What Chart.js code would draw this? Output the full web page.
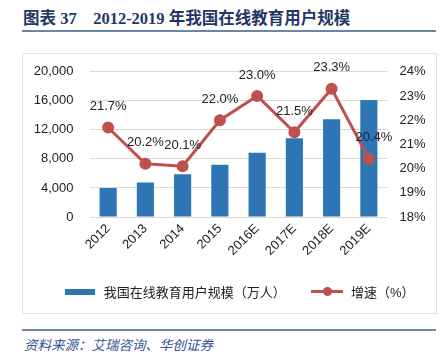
<!DOCTYPE html>
<html><head><meta charset="utf-8">
<script src="https://cdn.jsdelivr.net/npm/chart.js@4"></script>
<style>
html,body{margin:0;padding:0;background:#fff;width:444px;height:356px;overflow:hidden;position:relative;font-family:"Liberation Sans","Noto Sans CJK SC",sans-serif;}
#title{position:absolute;left:23px;top:5px;font-family:"Liberation Serif","Noto Sans CJK SC",serif;font-weight:bold;font-size:16.5px;color:#1f3864;white-space:pre;}
#rule1{position:absolute;left:22px;top:30px;width:414px;height:2px;background:#6b87a3;}
#box{position:absolute;left:22px;top:53px;width:413px;height:259px;border:1px solid #e3e3e3;}
#wrap{position:absolute;left:22px;top:48px;width:414px;height:265px;}
#legend{position:absolute;top:282px;left:65px;font-size:13px;color:#222;white-space:nowrap;}
.it{display:inline-block;vertical-align:middle;}
#rule2{position:absolute;left:22px;top:329px;width:414px;height:2px;background:#6b87a3;}
#src{position:absolute;left:24px;top:334px;font-size:13.5px;font-style:italic;color:#2f5597;font-family:"Noto Sans CJK SC",sans-serif;}
</style></head><body>
<div id="title">图表 37    2012-2019 年我国在线教育用户规模</div>
<div id="rule1"></div>
<div id="box"></div>
<div id="wrap"><canvas id="c" width="414" height="265"></canvas></div>
<div id="legend">
<span class="it" style="width:30px;height:6px;background:#2e75b6;"></span>
<span class="it" style="margin-left:5px;">我国在线教育用户规模（万人）</span>
<span class="it" style="position:relative;width:32px;height:9px;margin-left:22px;"><span style="position:absolute;left:0;top:3px;width:32px;height:3px;background:#c0504d;"></span><span style="position:absolute;left:12px;top:0;width:9px;height:9px;border-radius:50%;background:#c0504d;"></span></span>
<span class="it" style="margin-left:4px;">增速（%）</span>
</div>
<div id="rule2"></div>
<div id="src">资料来源：艾瑞咨询、华创证券</div>
<script>
const categories = ["2012","2013","2014","2015","2016E","2017E","2018E","2019E"];
const users = [4000, 4750, 5900, 7200, 8850, 10850, 13450, 16100];
const growth = [21.7, 20.2, 20.1, 22.0, 23.0, 21.5, 23.3, 20.4];
const leftTicks = [0, 4000, 8000, 12000, 16000, 20000];
const rightTicks = [18, 19, 20, 21, 22, 23, 24];

const labelPlugin = {
  id:'lbl',
  afterDatasetsDraw(chart){
    const ctx = chart.ctx;
    const meta = chart.getDatasetMeta(0);
    ctx.save();
    ctx.font = '13px "Liberation Sans", sans-serif';
    ctx.fillStyle = '#222';
    ctx.textAlign = 'center';
    ctx.textBaseline = 'middle';
    meta.data.forEach((p,i)=>{
      ctx.fillText(growth[i].toFixed(1)+'%', p.x + (i===7?5:0), p.y - 21);
    });
    ctx.restore();
  }
};

new Chart(document.getElementById('c'), {
  data:{
    labels: categories,
    datasets:[
      {type:'line', label:'增速（%）', data:growth, yAxisID:'y2', borderColor:'#c0504d', backgroundColor:'#c0504d', borderWidth:3, pointRadius:4.5, pointHoverRadius:4.5, tension:0, order:0},
      {type:'bar', label:'我国在线教育用户规模（万人）', data:users, yAxisID:'y', backgroundColor:'#2e75b6', barPercentage:0.46, categoryPercentage:1.0, order:1}
    ]
  },
  options:{
    responsive:false, animation:false, devicePixelRatio:1,
    layout:{padding:{top:0,left:0,right:0,bottom:0}},
    plugins:{legend:{display:false}, tooltip:{enabled:false}},
    scales:{
      x:{
        grid:{display:false, drawTicks:false},
        border:{display:false},
        ticks:{minRotation:45, maxRotation:45, padding:4, color:'#222', font:{size:13, family:'"Liberation Sans", sans-serif'}},
        afterFit(s){ s.height = 96; }
      },
      y:{
        position:'left', min:0, max:20000,
        afterBuildTicks(s){ s.ticks = leftTicks.map(v=>({value:v})); },
        grid:{color:'#d9d9d9', drawTicks:false, lineWidth:1},
        border:{display:false},
        ticks:{padding:16, color:'#222', font:{size:13, family:'"Liberation Sans", sans-serif'}, callback:v=>v.toLocaleString('en-US')},
        afterFit(s){ s.width = 67.5; }
      },
      y2:{
        position:'right', min:18, max:24,
        afterBuildTicks(s){ s.ticks = rightTicks.map(v=>({value:v})); },
        grid:{display:false, drawTicks:false},
        border:{display:false},
        ticks:{padding:12, color:'#222', font:{size:13, family:'"Liberation Sans", sans-serif'}, callback:v=>v+'%'},
        afterFit(s){ s.width = 48.5; }
      }
    }
  },
  plugins:[labelPlugin]
});
</script>
</body></html>
